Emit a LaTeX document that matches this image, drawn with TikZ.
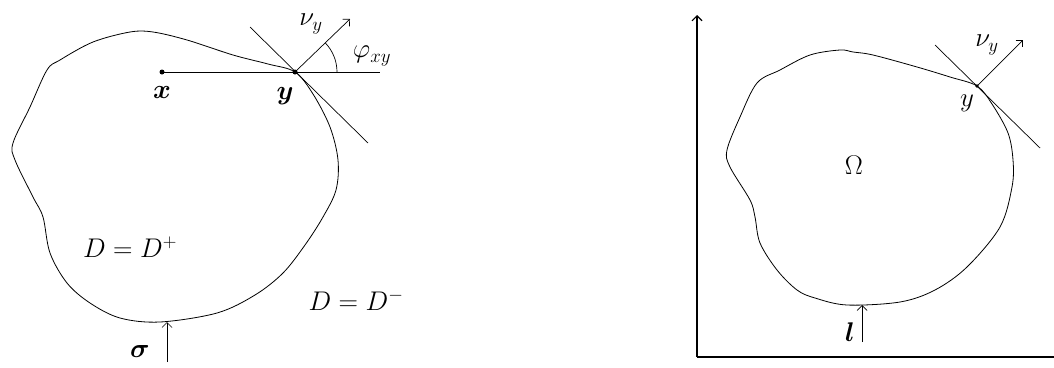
\RequirePackage{fix-cm}
\documentclass[tikz,border=0pt]{standalone}
\usepackage{amsmath}
\usepackage{amssymb}
\usetikzlibrary{arrows.meta}

\begin{document}
\begin{tikzpicture}[x=1pt, y=-1pt, >={Straight Barb[length=5pt, width=10pt]}]
  \tikzset{lbl/.style={font=\fontsize{27}{30}\selectfont, inner sep=0pt}}
  \useasboundingbox (0,0) rectangle (1054,367);

  % Mien D ben trai
  \coordinate (y1) at (295,72);
  \coordinate (x1) at (162,72);
  \draw[line width=0.8pt] plot[smooth cycle, tension=0.55] coordinates {
    (295,72) (313,94) (330,127) (338,160) (336,190) (323,217) (305,245)
    (283,273) (255,295) (217,313) (160,322) (120,318) (90,303) (67,283)
    (50,253) (43,217) (33,197) (15,160) (13,143) (30,107) (47,70) (60,60)
    (93,42) (130,32) (153,32) (187,40) (233,55) (268,64)};

  % Tiep tuyen va phap tuyen tai y
  \coordinate (t1a) at (250,27);
  \coordinate (t1b) at (368,143);
  \draw[line width=0.7pt] (t1a) -- (t1b);
  \coordinate (n1) at (350,19);
  \draw[->, line width=0.7pt] (y1) -- (n1);
  \coordinate (h1) at (380,72);
  \draw[line width=0.8pt] (x1) -- (h1);
  \fill (x1) circle[radius=2.5];
  \fill (y1) circle[radius=2.5];

  % Goc phi_xy
  \draw[line width=0.7pt] (y1) ++(42,0) arc[start angle=0, end angle=-44, radius=42];

  % Nhan ben trai
  \node[lbl] (xlab) at (162,92) {$\boldsymbol{x}$};
  \node[lbl] (ylab1) at (285,96) {$\boldsymbol{y}$};
  \node[lbl] (nu1) at (311,24) {$\nu_y$};
  \node[lbl] (phi) at (372,56) {$\varphi_{xy}$};
  \node[lbl] (dplus) at (130,247) {$D=D^{+}$};
  \node[lbl] (dminus) at (356,300) {$D=D^{-}$};
  \node[lbl] (sig) at (140,351) {$\boldsymbol{\sigma}$};
  \coordinate (s0) at (167,362);
  \coordinate (s1) at (167,322);
  \draw[->, line width=0.7pt] (s0) -- (s1);

  % Truc toa do ben phai
  \coordinate (o) at (697,357);
  \coordinate (oy) at (697,15);
  \coordinate (ox) at (1054,357);
  \draw[->, line width=1.1pt] (o) -- (oy);
  \draw[line width=1.3pt] (o) -- (ox);

  % Mien Omega
  \coordinate (y2) at (977,86);
  \draw[line width=0.8pt] plot[smooth cycle, tension=0.55] coordinates {
    (977,86) (992,104) (1008,133) (1013,160) (1012,187) (1000,227) (967,267)
    (935,290) (900,302) (847,305) (815,298) (797,290) (777,270) (760,243)
    (755,217) (750,200) (730,167) (727,150) (740,117) (757,83) (780,70)
    (810,55) (840,50) (853,52) (873,55) (917,67) (950,77)};
  \coordinate (t2a) at (935,45);
  \coordinate (t2b) at (1040,148);
  \draw[line width=0.7pt] (t2a) -- (t2b);
  \coordinate (n2) at (1023,40);
  \draw[->, line width=0.7pt] (y2) -- (n2);
  \fill (y2) circle[radius=1.8];

  % Nhan ben phai
  \node[lbl] (nu2) at (987,45) {$\nu_y$};
  \node[lbl] (ylab2) at (967,103) {$y$};
  \node[lbl] (om) at (854,165) {$\Omega$};
  \node[lbl] (llab) at (850,332) {$\boldsymbol{l}$};
  \coordinate (l0) at (862,342);
  \coordinate (l1) at (862,305);
  \draw[->, line width=0.7pt] (l0) -- (l1);
\end{tikzpicture}
\end{document}
